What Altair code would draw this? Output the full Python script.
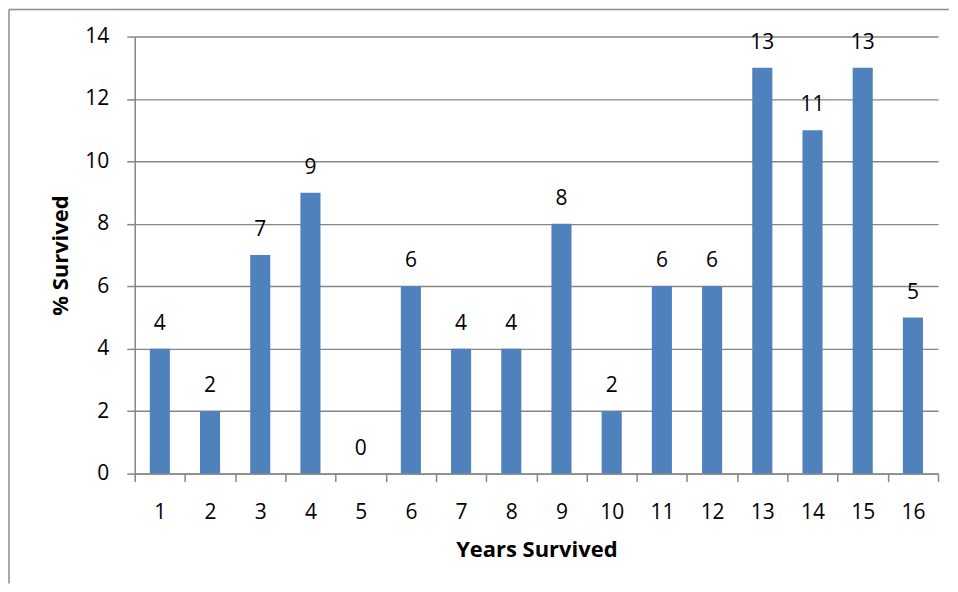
import altair as alt
import pandas as pd

years = [str(i) for i in range(1, 17)]
survived = [4, 2, 7, 9, 0, 6, 4, 4, 8, 2, 6, 6, 13, 11, 13, 5]

df = pd.DataFrame({"year": years, "pct": survived})

W, H = 805, 438
FONT = "Open Sans"
GRAY = "#868686"

x = alt.X("year:N", sort=years, title="Years Survived",
          scale=alt.Scale(paddingInner=0, paddingOuter=0),
          axis=alt.Axis(tickBand="extent", labelAngle=0, labelFontSize=21,
                        labelFont=FONT, labelColor="#000", labelPadding=20,
                        labelBaseline="top",
                        tickSize=8, tickColor=GRAY, tickWidth=1.5,
                        domainColor=GRAY, domainWidth=1.5, grid=False,
                        titleFont=FONT, titleFontSize=22, titleFontWeight="bold",
                        titleColor="#000", titleY=83, titleBaseline="alphabetic"))

y = alt.Y("pct:Q", title="% Survived",
          scale=alt.Scale(domain=[0, 14], nice=False),
          axis=alt.Axis(values=list(range(0, 15, 2)), labelFontSize=21,
                        labelFont=FONT, labelColor="#000", labelPadding=18,
                        tickSize=8, tickColor=GRAY, tickWidth=1.5,
                        domainColor=GRAY, domainWidth=1.5,
                        grid=True, gridColor=GRAY, gridWidth=1.4,
                        titleFont=FONT, titleFontSize=22, titleFontWeight="bold",
                        titleColor="#000", titleX=-67, titleBaseline="alphabetic"))

base = alt.Chart(df)

bars = base.mark_bar(color="#4F81BD", width=alt.RelativeBandSize(0.4)).encode(x=x, y=y)

labels = base.mark_text(font=FONT, fontSize=21, color="#000", baseline="alphabetic",
                        dy=-19).encode(x=alt.X("year:N", sort=years), y="pct:Q",
                                       text="pct:Q")

frame_top = alt.Chart(pd.DataFrame({"a": [0]})).mark_rule(color="#8c8c8c", strokeWidth=1.5).encode(
    x=alt.value(-126), x2=alt.value(816), y=alt.value(-27))
frame_left = alt.Chart(pd.DataFrame({"a": [0]})).mark_rule(color="#8c8c8c", strokeWidth=1.5).encode(
    x=alt.value(-126), y=alt.value(-27), y2=alt.value(548))

chart = alt.layer(bars, labels, frame_top, frame_left).properties(
    width=W, height=H, padding=0
).configure_view(stroke=None)

chart.save("out.html", embed_options={"renderer": "svg", "actions": False})
